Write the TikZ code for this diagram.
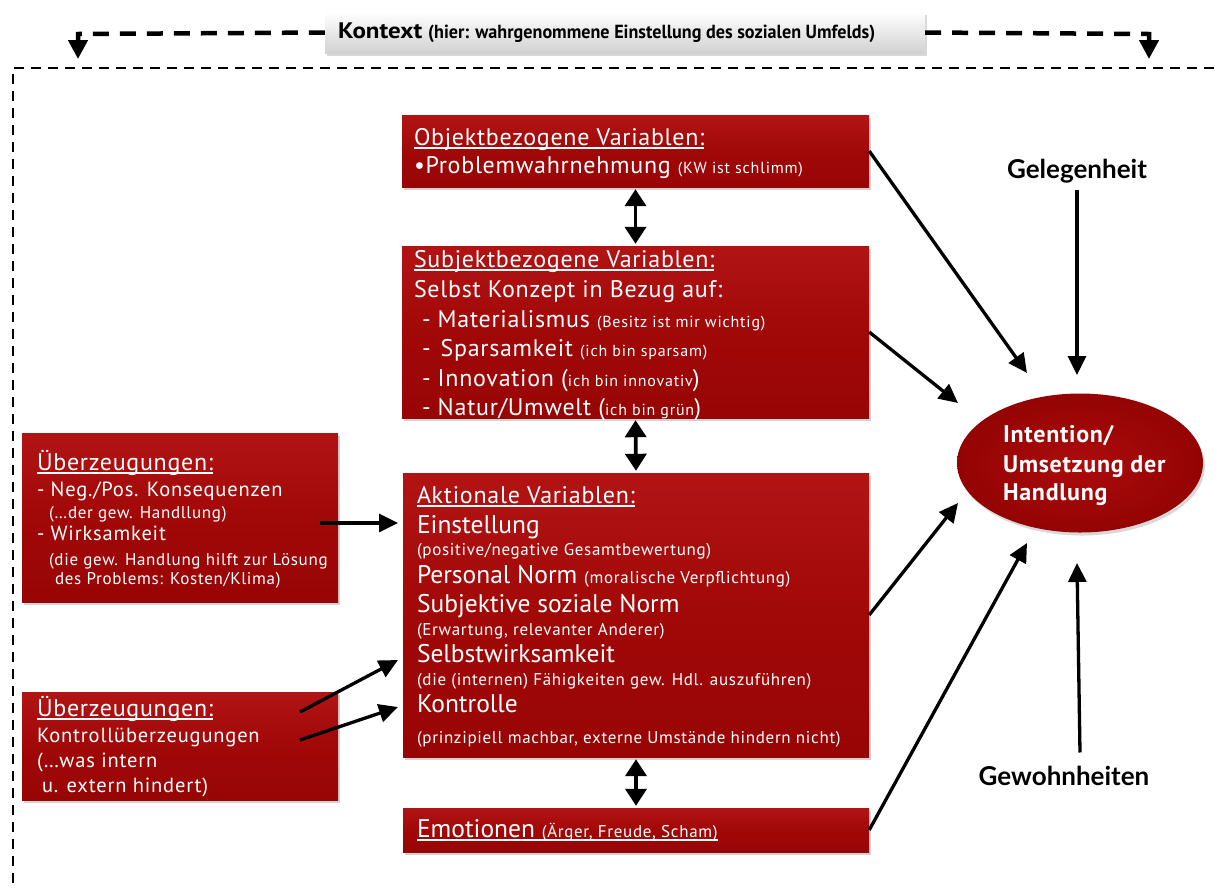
\documentclass[tikz,border=0pt]{standalone}
\usepackage{graphicx}
\usepackage{fontspec}
\setmainfont{PT Sans}
\newfontfamily\latof{Lato}
\usetikzlibrary{arrows.meta,shadows,shapes.geometric}
\definecolor{redtop}{RGB}{178,20,20}
\definecolor{redmid}{RGB}{161,8,8}
\definecolor{redbot}{RGB}{152,5,5}
\definecolor{ellin}{RGB}{172,12,12}
\definecolor{ellout}{RGB}{148,3,3}
\newcommand\szT{\fontsize{24}{28}\selectfont\addfontfeatures{LetterSpace=3}}
\newcommand\szL{\fontsize{25.5}{30}\selectfont}
\newcommand\szB{\fontsize{20.5}{24}\selectfont\addfontfeatures{LetterSpace=4}}
\newcommand\szM{\fontsize{17}{20}\selectfont\addfontfeatures{LetterSpace=4}}
\newcommand\szS{\fontsize{16}{19}\selectfont\addfontfeatures{LetterSpace=5}}
\begin{document}
\begin{tikzpicture}[x=1pt,y=-1pt,
 box/.style={rectangle, top color=redtop, bottom color=redbot, middle color=redmid, draw=none,
   drop shadow={opacity=0.35,shadow xshift=2pt,shadow yshift=-3pt}, inner sep=0pt},
 ln/.style={anchor=base west, inner sep=0pt, outer sep=0pt, text=white},
 ul/.style={white, line width=1.3pt},
 arr/.style={line width=3.3pt, -{Triangle[width=18pt,length=19pt]}},
 dbl/.style={line width=3.8pt, {Triangle[width=21pt,length=17pt]}-{Triangle[width=21pt,length=17pt]}, shorten <=2pt, shorten >=2pt},
 ctxline/.style={line width=4.5pt, dash pattern=on 16pt off 11pt, -{Triangle[width=19pt,length=19pt]}},
 frame/.style={line width=2.5pt, dash pattern=on 10pt off 7pt},
 lbl/.style={anchor=base, inner sep=0pt, font=\latof\bfseries\fontsize{26}{30}\selectfont}
]
\useasboundingbox (0,0) rectangle (1215,887);
\fill[white] (0,0) rectangle (1215,887);
\begin{scope}
\clip (0,0) rectangle (1215,887);
\draw[frame] (13,900) -- (13,68) -- (1230,68);
\end{scope}

% context
\node[draw=none, top color=white, bottom color=black!18, minimum width=600pt, minimum height=41pt,
  drop shadow={opacity=0.3,shadow xshift=1.5pt,shadow yshift=-2.5pt}, inner sep=0pt] (ctx) at (625,32.5) {};
\node[anchor=base west, inner sep=0pt] (ctxt) at (338,38) {\bfseries\resizebox{84pt}{15.7pt}{Kontext}\hspace{6pt}\resizebox{447pt}{13.5pt}{(hier: wahrgenommene Einstellung des sozialen Umfelds)}};
\coordinate (cl) at (78,34);
\coordinate (clt) at (78,59);
\coordinate (cr) at (1149,34);
\coordinate (crt) at (1149,59);
\draw[ctxline] (ctx.west) -- (cl) -- (clt);
\draw[ctxline] (ctx.east) -- (cr) -- (crt);

% boxes
\node[box, minimum width=467pt, minimum height=72pt] (obj) at (635.5,151) {};
\node[box, minimum width=467pt, minimum height=172pt] (subj) at (635.5,332) {};
\node[box, minimum width=466pt, minimum height=284pt] (akt) at (636,615) {};
\node[box, minimum width=466pt, minimum height=44pt] (emo) at (636,830) {};
\node[box, minimum width=316pt, minimum height=169pt] (ub1) at (180,517.5) {};
\node[box, minimum width=316pt, minimum height=108pt] (ub2) at (180,746) {};
\node[ellipse, inner color=ellin, outer color=ellout, minimum width=246pt, minimum height=139pt,
  drop shadow={opacity=0.3,shadow xshift=2pt,shadow yshift=-3pt}, inner sep=0pt] (int) at (1080,463) {};

% Objekt
\node[ln] (o1) at (414,145) {\szT Objektbezogene Variablen:};
\draw[ul] ([yshift=-3pt]o1.base west) -- ([yshift=-3pt]o1.base east);
\node[ln] (o2) at (414,173) {\szT •Problemwahrnehmung {\szS (KW ist schlimm)}};

% Subjekt
\node[ln] (s1) at (414,267) {\szT Subjektbezogene Variablen:};
\draw[ul] ([yshift=-3pt]s1.base west) -- ([yshift=-3pt]s1.base east);
\node[ln] (s2) at (414,297) {\szT Selbst Konzept in Bezug auf:};
\node[ln] (s3) at (422,327) {\szT - Materialismus {\szS (Besitz ist mir wichtig)}};
\node[ln] (s4) at (422,356) {\szT -\hspace{10pt}Sparsamkeit {\szS (ich bin sparsam)}};
\node[ln] (s5) at (422,386) {\szT - Innovation ({\szS ich bin innovativ})};
\node[ln] (s6) at (422,415) {\szT - Natur/Umwelt ({\szS ich bin grün})};

% Aktional
\node[ln] (a1) at (417,503) {\szT Aktionale Variablen:};
\draw[ul] ([yshift=-3pt]a1.base west) -- ([yshift=-3pt]a1.base east);
\node[ln] (a2) at (417,533) {\szL Einstellung};
\node[ln] (a3) at (417,555) {\szM (positive/negative Gesamtbewertung)};
\node[ln] (a4) at (417,583) {\szL Personal Norm {\szM (moralische Verpflichtung)}};
\node[ln] (a5) at (417,612) {\szL Subjektive soziale Norm};
\node[ln] (a6) at (417,635) {\szM (Erwartung, relevanter Anderer)};
\node[ln] (a7) at (417,662) {\szL Selbstwirksamkeit};
\node[ln] (a8) at (417,685) {\szM (die (internen) Fähigkeiten gew. Hdl. auszuführen)};
\node[ln] (a9) at (417,712) {\szL Kontrolle};
\node[ln] (a10) at (417,743) {\szM (prinzipiell machbar, externe Umstände hindern nicht)};

% Emotionen
\node[ln] (e1) at (417,837) {\szL Emotionen {\szM (Ärger, Freude, Scham)}};
\draw[ul] ([yshift=-3pt]e1.base west) -- ([yshift=-3pt]e1.base east);

% Ueberzeugungen 1
\node[ln] (u1) at (37,470) {\szT Überzeugungen:};
\draw[ul] ([yshift=-3pt]u1.base west) -- ([yshift=-3pt]u1.base east);
\node[ln] (u2) at (37,496) {\szB - Neg./Pos. Konsequenzen};
\node[ln] (u3) at (49,518) {\szM (…der gew. Handllung)};
\node[ln] (u4) at (37,540) {\szB - Wirksamkeit};
\node[ln] (u5) at (49,565) {\szM (die gew. Handlung hilft zur Lösung};
\node[ln] (u6) at (55,584) {\szM des Problems: Kosten/Klima)};

% Ueberzeugungen 2
\node[ln] (v1) at (37,716) {\szT Überzeugungen:};
\draw[ul] ([yshift=-3pt]v1.base west) -- ([yshift=-3pt]v1.base east);
\node[ln] (v2) at (37,742) {\szB Kontrollüberzeugungen};
\node[ln] (v3) at (37,767) {\szB (…was intern};
\node[ln] (v4) at (42,792) {\szB u. extern hindert)};

% Intention
\node[ln] (i1) at (1003,442) {\fontsize{24}{28}\selectfont\bfseries\addfontfeatures{LetterSpace=3}Intention/};
\node[ln] (i2) at (1003,472) {\fontsize{24}{28}\selectfont\bfseries\addfontfeatures{LetterSpace=3}Umsetzung der};
\node[ln] (i3) at (1003,500) {\fontsize{24}{28}\selectfont\bfseries\addfontfeatures{LetterSpace=3}Handlung};

% labels
\node[lbl] (gel) at (1077,178) {Gelegenheit};
\node[lbl] (gew) at (1064,785) {Gewohnheiten};

% vertical double arrows
\draw[dbl] (obj.south) -- (subj.north);
\draw[dbl] (subj.south) -- (akt.north);
\draw[dbl] (akt.south) -- (emo.north);

% arrows to intention
\coordinate (t1) at (1027,373);
\coordinate (t2) at (958,403);
\coordinate (t3) at (958,503);
\coordinate (t4) at (1027,543);
\coordinate (t5) at (1077,375);
\coordinate (t6) at (1077,563);
\draw[arr] (obj.east) -- (t1);
\draw[arr] (subj.east) -- (t2);
\draw[arr] (akt.east) -- (t3);
\draw[arr] (emo.east) -- (t4);
\draw[arr] ([yshift=-7pt]gel.south) -- (t5);
\draw[arr] ([xshift=16pt,yshift=13pt]gew.north) -- (t6);

% arrows from beliefs
\coordinate (b1) at (320,523);
\coordinate (k1) at (398,523);
\coordinate (b2) at (300,712);
\coordinate (k2) at (398,660);
\coordinate (b3) at (300,740);
\coordinate (k3) at (398,707);
\draw[arr] (b1) -- (k1);
\draw[arr] (b2) -- (k2);
\draw[arr] (b3) -- (k3);
\end{tikzpicture}
\end{document}
